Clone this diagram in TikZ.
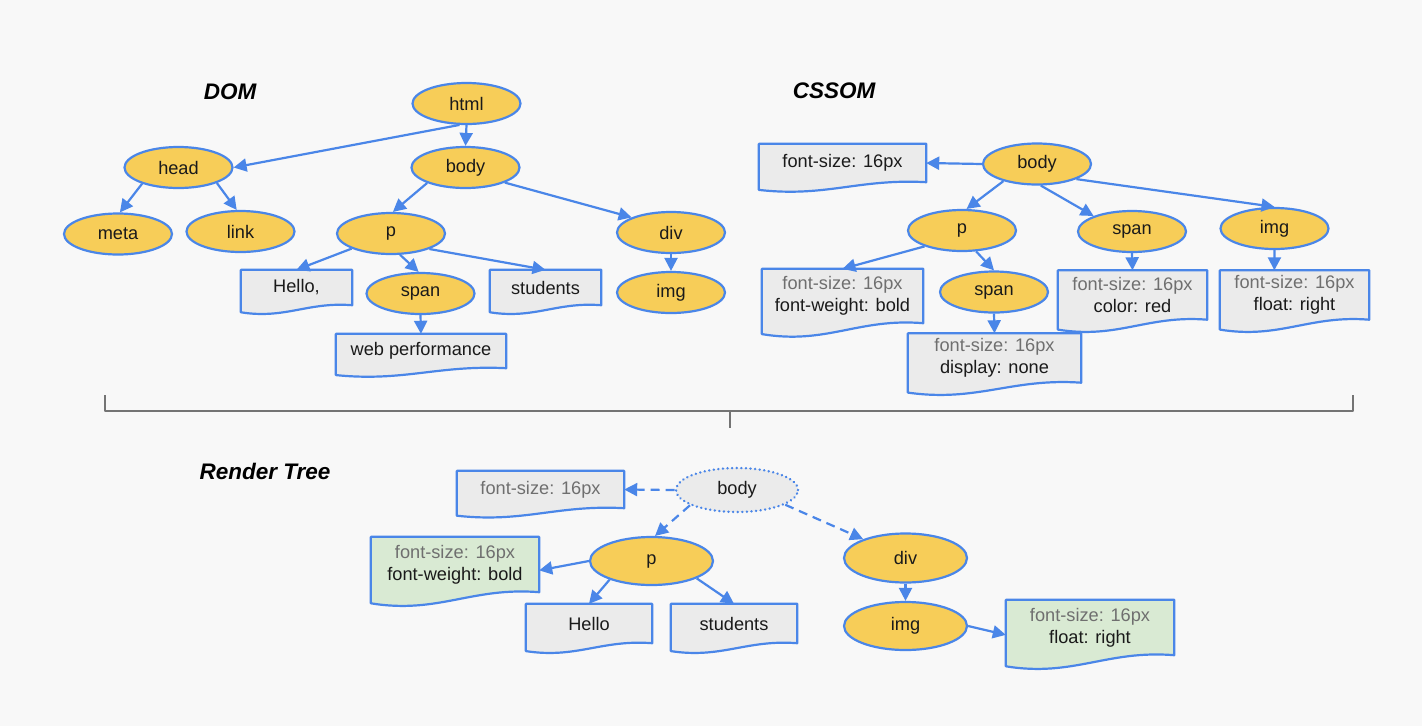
\documentclass[tikz,border=0pt]{standalone}
\usepackage{fontspec}
\setmainfont{Liberation Sans}
\usetikzlibrary{shapes.geometric,arrows.meta,calc}
\pgfdeclarelayer{pagebg}
\pgfdeclarelayer{docs}
\pgfsetlayers{pagebg,docs,main}
\definecolor{bgc}{HTML}{F8F8F8}
\definecolor{ylw}{HTML}{F7CD58}
\definecolor{blu}{HTML}{4A86E8}
\definecolor{docg}{HTML}{EBEBEB}
\definecolor{docgr}{HTML}{D9EAD3}
\definecolor{gtxt}{HTML}{6F6F6F}
\definecolor{brc}{HTML}{747474}
\definecolor{txt}{HTML}{1A1A1A}
\tikzset{
  tnode/.style={ellipse, draw=blu, line width=2.2pt, fill=ylw, minimum width=108pt, minimum height=41pt, inner sep=0pt, font=\fontsize{18.2}{22}\selectfont, text=txt},
  rnode/.style={tnode, minimum width=123pt, minimum height=48pt},
  docnode/.style={rectangle, inner sep=0pt, align=center, font=\fontsize{18.2}{22}\selectfont, text=txt},
  docline/.style={draw=blu, line width=2.2pt, line join=round},
  arr/.style={draw=blu, line width=2.2pt, -{Triangle[length=13pt,width=13pt]}},
  darr/.style={arr, dash pattern=on 9pt off 6pt},
  ttl/.style={font=\bfseries\itshape\fontsize{22.5}{27}\selectfont, text=black},
  bracket/.style={draw=brc, line width=2.2pt},
}
\newcommand\gl[1]{\textcolor{gtxt}{#1}}
\newcommand\docframe[2]{%
  \begin{pgfonlayer}{docs}
  \path[docline, fill=#2] let \p1=(#1.north west), \p2=(#1.south east) in
    (\x1,\y1) -- (\x2,\y1) -- (\x2,\y2)
    .. controls ({0.4*\x1+0.6*\x2},{0.9*\y2+0.1*\y1}) and ({0.6*\x1+0.4*\x2},{1.4*\y2-0.4*\y1}) ..
    (\x1,{1.2*\y2-0.2*\y1}) -- cycle;
  \end{pgfonlayer}}
\begin{document}
\begin{tikzpicture}[x=1pt,y=-1pt]
\useasboundingbox (0,0) rectangle (1422,726);
\begin{pgfonlayer}{pagebg}
\fill[bgc] (0,0) rectangle (1422,726);
\end{pgfonlayer}

% ---------------- DOM ----------------
\node[ttl] (domT) at (230,92) {DOM};
\node[tnode] (html) at (466.5,103.5) {html};
\node[tnode] (head) at (178.5,167.5) {head};
\node[tnode] (dbody) at (465.5,167.5) {body};
\node[tnode] (meta) at (118,234) {meta};
\node[tnode] (link) at (240.5,231.5) {link};
\node[tnode] (dp) at (391,233.5) {p};
\node[tnode] (ddiv) at (671,232.5) {div};
\node[tnode] (dimg) at (671,292.5) {img};
\node[tnode] (dspan) at (420.5,293.5) {span};
\node[docnode, minimum width=111pt, minimum height=35pt] (hello) at (296.5,287.5) {Hello,};
\docframe{hello}{docg}
\node[docnode, minimum width=111pt, minimum height=35pt] (stud) at (545.5,287.5) {students};
\docframe{stud}{docg}
\node[docnode, minimum width=170pt, minimum height=34pt] (web) at (421,351) {web performance};
\docframe{web}{docg}

\draw[arr] (html.252) -- (head.east);
\draw[arr] (html.south) -- (dbody.north);
\draw[arr] (head.204) -- (meta.85);
\draw[arr] (head.338) -- (link.100);
\draw[arr] (dbody.202) -- (dp.85);
\draw[arr] (dbody.339) -- (ddiv.159);
\draw[arr] (dp.201) -- (hello.north);
\draw[arr] (dp.293) -- (dspan.95);
\draw[arr] (dp.338) -- (stud.north);
\draw[arr] (dspan.south) -- (web.north);
\draw[arr] (ddiv.south) -- (dimg.north);

% ---------------- CSSOM ----------------
\node[ttl] (cssT) at (834,91) {CSSOM};
\node[tnode] (cbody) at (1037,164) {body};
\node[docnode, minimum width=167pt, minimum height=38pt] (cfs) at (842.5,163) {font-size: 16px};
\docframe{cfs}{docg}
\node[tnode] (cp) at (962,230.5) {p};
\node[tnode] (cspan) at (1132,231.5) {span};
\node[tnode] (cimg) at (1274.5,228.5) {img};
\node[tnode] (cspan2) at (994,292) {span};
\node[docnode, minimum width=161pt, minimum height=54pt] (docp) at (842.5,296) {\gl{font-size: 16px}\\font-weight: bold};
\docframe{docp}{docg}
\node[docnode, minimum width=173pt, minimum height=49pt] (docspan2) at (994.5,358) {\gl{font-size: 16px}\\display: none};
\docframe{docspan2}{docg}
\node[docnode, minimum width=149pt, minimum height=49pt] (docspan) at (1132.5,295) {\gl{font-size: 16px}\\color: red};
\docframe{docspan}{docg}
\node[docnode, minimum width=149pt, minimum height=49pt] (docimg) at (1294.5,295) {\gl{font-size: 16px}\\float: right};
\docframe{docimg}{docg}

\draw[arr] (cbody.west) -- (cfs.east);
\draw[arr] (cbody.207) -- (cp.78);
\draw[arr] (cbody.280) -- (cspan.158);
\draw[arr] (cbody.339) -- (cimg.north);
\draw[arr] (cp.203) -- (docp.north);
\draw[arr] (cp.304) -- (cspan2.north);
\draw[arr] (cspan.south) -- (docspan.north);
\draw[arr] (cimg.south) -- ($(docimg.north west)!0.365!(docimg.north east)$);
\draw[arr] (cspan2.south) -- (docspan2.north);

% ---------------- bracket ----------------
\coordinate (bl) at (105,395);
\coordinate (br) at (1353,395);
\coordinate (bm) at (730,411);
\coordinate (bc) at (730,428);
\draw[bracket, line join=round] (bl) -- (105,411) -- (1353,411) -- (br);
\draw[bracket] (bm) -- (bc);

% ---------------- Render Tree ----------------
\node[ttl] (rtT) at (265,471) {Render Tree};
\node[rnode, fill=docg, dash pattern=on 0.1pt off 4.5pt, line cap=round, line width=2.6pt, minimum width=122pt, minimum height=44pt] (rbody) at (737,490) {body};
\node[docnode, minimum width=167pt, minimum height=37pt] (rfs) at (540.5,489.5) {\gl{font-size: 16px}};
\docframe{rfs}{docg}
\node[rnode] (rp) at (651.5,561) {p};
\node[rnode, minimum height=49pt] (rdiv) at (905.5,558) {div};
\node[rnode] (rimg) at (905.5,626) {img};
\node[docnode, minimum width=168pt, minimum height=55pt] (rgp) at (455,564.5) {\gl{font-size: 16px}\\font-weight: bold};
\docframe{rgp}{docgr}
\node[docnode, minimum width=126pt, minimum height=39pt] (rhello) at (589,623.5) {Hello};
\docframe{rhello}{docg}
\node[docnode, minimum width=126pt, minimum height=39pt] (rstud) at (734,623.5) {students};
\docframe{rstud}{docg}
\node[docnode, minimum width=168pt, minimum height=55pt] (rgimg) at (1090,627.5) {\gl{font-size: 16px}\\float: right};
\docframe{rgimg}{docgr}

\draw[darr] (rbody.west) -- (rfs.east);
\draw[darr] (rbody.198) -- (rp.82);
\draw[darr] (rbody.343) -- (rdiv.156);
\draw[arr] (rp.west) -- (rgp.-4);
\draw[arr] (rp.204) -- (rhello.north);
\draw[arr] (rp.339) -- (rstud.north);
\draw[arr] (rdiv.south) -- (rimg.north);
\draw[arr] (rimg.east) -- (rgimg.185);
\end{tikzpicture}
\end{document}
